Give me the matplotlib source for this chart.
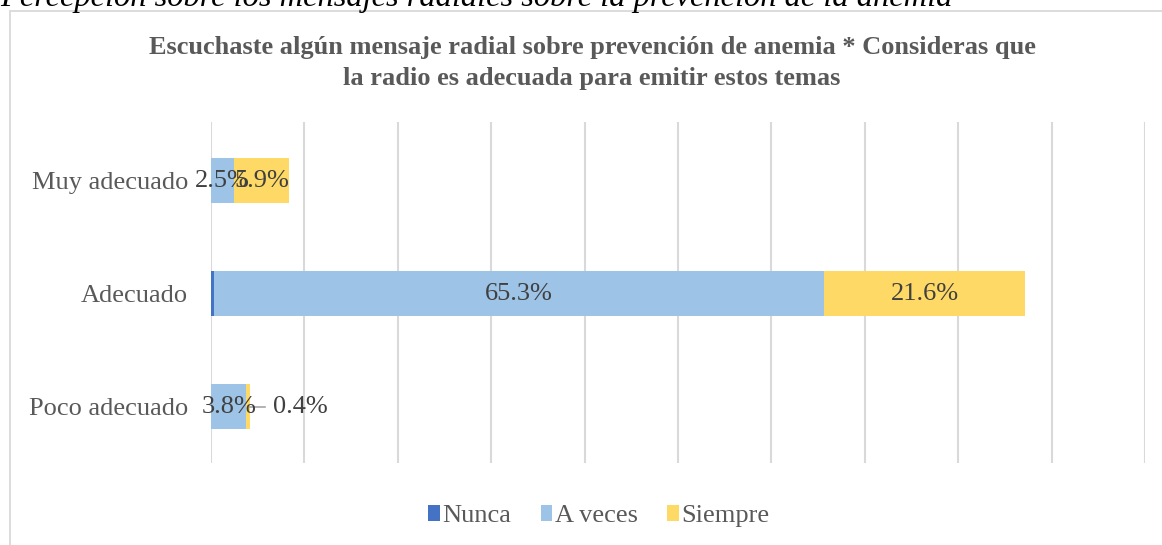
import numpy as np
import matplotlib
matplotlib.use("Agg")
import matplotlib.pyplot as plt
from matplotlib.patches import Rectangle

plt.rcParams['font.family'] = ['Liberation Serif', 'DejaVu Serif']

categories = ['Poco adecuado', 'Adecuado', 'Muy adecuado']
nunca = [0.0, 0.3, 0.0]
a_veces = [3.8, 65.3, 2.5]
siempre = [0.4, 21.6, 5.9]
series_names = ['Nunca', 'A veces', 'Siempre']
colors = ['#4472C4', '#9DC3E6', '#FFD966']

caption = 'Percepción sobre los mensajes radiales sobre la prevención de la anemia'
title = ('Escuchaste algún mensaje radial sobre prevención de anemia * Consideras que\n'
         'la radio es adecuada para emitir estos temas')

W, H = 1162, 545
fig = plt.figure(figsize=(W / 100, H / 100), dpi=100)

# outer chart frame (cut by the image edges like in the document)
fig.patches.append(Rectangle((10 / W, -0.05), 1.2, (H - 11) / H + 0.05,
                             transform=fig.transFigure, fill=False,
                             edgecolor='#d9d9d9', linewidth=1.3))

fig.text(0, (H - 6) / H, caption, fontsize=23.4, style='italic',
         color='black', va='baseline', ha='left')
fig.text(592 / W, (H - 63) / H, title, fontsize=19, fontweight='bold',
         color='#595959', ha='center', va='center', linespacing=1.45)

ax = fig.add_axes([211 / W, (H - 463) / H, (1145 - 211) / W, (463 - 122) / H])
y = np.arange(len(categories))
h = 0.4
left = np.zeros(len(categories))
bars = []
for vals, name, c in zip([nunca, a_veces, siempre], series_names, colors):
    b = ax.barh(y, vals, height=h, left=left, color=c, label=name, zorder=3)
    bars.append(b)
    left = left + np.array(vals)

ax.set_xlim(0, 100)
ax.set_ylim(-0.5, 2.52)
ax.set_xticks(np.arange(0, 101, 10))
ax.set_xticklabels([])
ax.tick_params(axis='x', length=0)
ax.tick_params(axis='y', length=0, pad=16.5, labelsize=19, labelcolor='#595959')
ax.set_yticks(y)
ax.set_yticklabels(categories)
ax.grid(axis='x', color='#d9d9d9', linewidth=1.5, zorder=0)
for s in ax.spines.values():
    s.set_visible(False)

lab_kw = dict(fontsize=19, color='#404040', ha='center', va='center', zorder=5)
# A veces labels
for i, v in enumerate(a_veces):
    ax.text(nunca[i] + v / 2, y[i], f'{v:.1f}%', **lab_kw)
# Siempre labels
for i, v in enumerate(siempre):
    start = nunca[i] + a_veces[i]
    if v < 1:
        ax.plot([start + v, start + v + 1.6], [y[i], y[i]], color='#a6a6a6',
                linewidth=1.2, zorder=4)
        ax.text(start + v + 5.4, y[i], f'{v:.1f}%', **lab_kw)
    else:
        ax.text(start + v / 2, y[i], f'{v:.1f}%', **lab_kw)

fig.legend(handles=bars, labels=series_names, loc='center',
           bbox_to_anchor=(599 / W, (H - 516) / H), ncol=3, frameon=False,
           fontsize=19, handlelength=0.45, handleheight=0.55, handletextpad=0.1,
           columnspacing=1.1, labelcolor='#595959')

fig.savefig('out.png', dpi=100)
